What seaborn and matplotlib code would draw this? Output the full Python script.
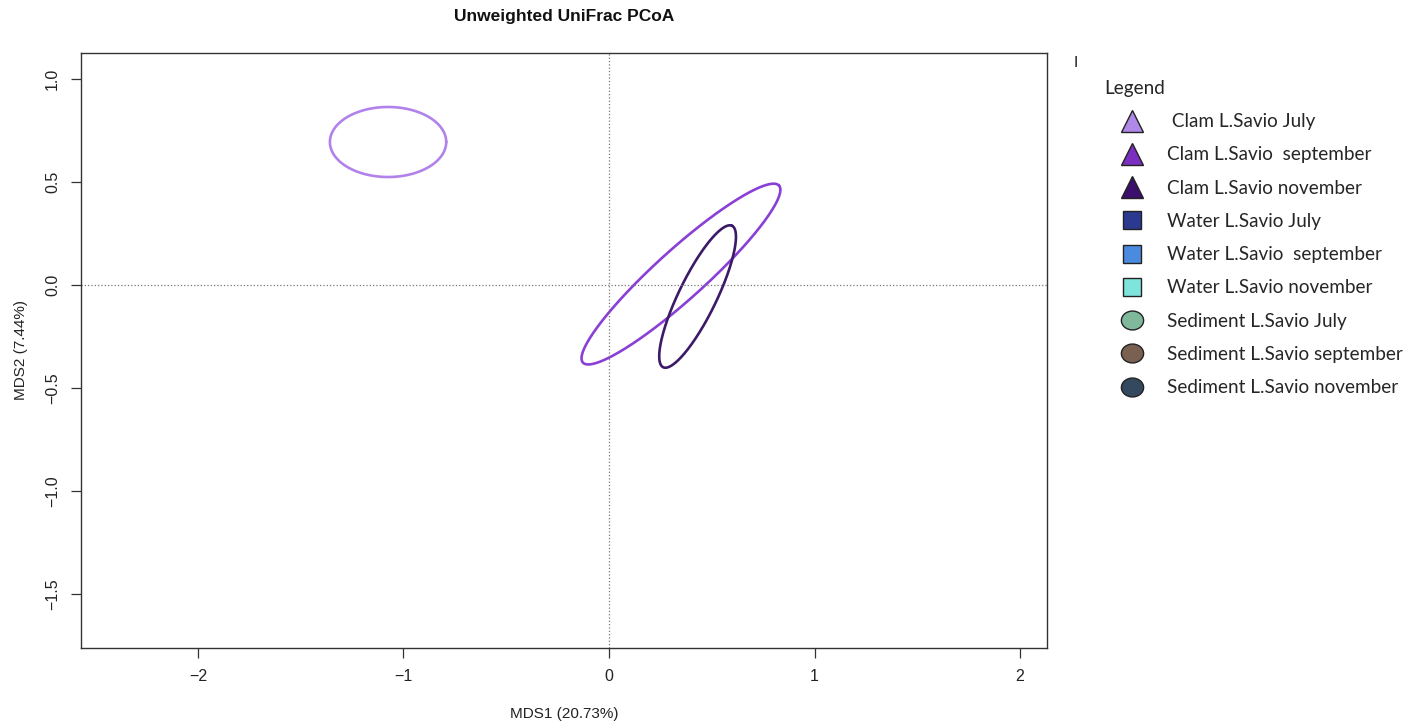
import numpy as np
import pandas as pd
import matplotlib
matplotlib.use('Agg')
import matplotlib.pyplot as plt
from matplotlib.lines import Line2D
from matplotlib.path import Path
from matplotlib.transforms import Affine2D
import seaborn as sns

# ellipse groups (only clam groups have ellipses drawn)
groups = ['Clam L.Savio July', 'Clam L.Savio  september', 'Clam L.Savio november']
centre_x = [-1.075, 0.350, 0.431]
centre_y = [0.694, 0.053, -0.056]
semi_major = [0.283, 0.642, 0.382]
semi_minor = [0.170, 0.120, 0.092]
angle_deg = [0.0, 42.0, 64.0]
ellipse_colors = ['#B183EA', '#8A3FD6', '#3C1A68']

# legend entries
legend_labels = [' Clam L.Savio July', 'Clam L.Savio  september', 'Clam L.Savio november',
                 'Water L.Savio July', 'Water L.Savio  september', 'Water L.Savio november',
                 'Sediment L.Savio July', 'Sediment L.Savio september', 'Sediment L.Savio november']
legend_markers = ['^', '^', '^', 's', 's', 's', 'o', 'o', 'o']
legend_colors = ['#B088E8', '#7B2FC0', '#3B0F6B', '#2B3990', '#4A8BE0', '#7FE5DC',
                 '#7FB89A', '#7A6050', '#34495E']

x_ticks = [-2, -1, 0, 1, 2]
y_ticks = [-1.5, -1.0, -0.5, 0.0, 0.5, 1.0]

sns.set_style('ticks')
plt.rcParams['font.family'] = ['Liberation Sans', 'DejaVu Sans']

fig = plt.figure(figsize=(14.21, 7.27), dpi=100)
ax = fig.add_axes([81 / 1421, 1 - 648 / 727, (1047 - 81) / 1421, (648 - 53) / 727])

# build ellipse outlines from the centre / axes / angle values
t = np.linspace(0, 2 * np.pi, 300)
frames = []
for g, cx, cy, a, b, ang in zip(groups, centre_x, centre_y, semi_major, semi_minor, angle_deg):
    th = np.deg2rad(ang)
    ex = cx + a * np.cos(t) * np.cos(th) - b * np.sin(t) * np.sin(th)
    ey = cy + a * np.cos(t) * np.sin(th) + b * np.sin(t) * np.cos(th)
    frames.append(pd.DataFrame({'x': ex, 'y': ey, 'group': g}))
df = pd.concat(frames, ignore_index=True)

sns.lineplot(data=df, x='x', y='y', hue='group', palette=dict(zip(groups, ellipse_colors)),
             sort=False, estimator=None, units='group', linewidth=1.9, legend=False, ax=ax)

ax.axhline(0, color='#777777', linestyle=':', linewidth=0.9)
ax.axvline(0, color='#777777', linestyle=':', linewidth=0.9)

ax.set_xlim(-2.569, 2.131)
ax.set_ylim(-1.762, 1.126)
ax.set_xticks(x_ticks)
ax.set_xticklabels(['\u22122', '\u22121', '0', '1', '2'])
ax.set_yticks(y_ticks)
ax.set_yticklabels(['\u22121.5', '\u22121.0', '\u22120.5', '0.0', '0.5', '1.0'], rotation=90, va='center')
ax.tick_params(axis='both', direction='out', length=7, width=0.9, colors='#333333',
               labelsize=11.5, labelcolor='#222222', pad=8)
for s in ax.spines.values():
    s.set_visible(True)
    s.set_linewidth(1.0)
    s.set_color('#333333')

ax.set_xlabel('MDS1 (20.73%)', fontsize=11, color='#222222', labelpad=17)
ax.set_ylabel('MDS2 (7.44%)', fontsize=11, color='#222222', labelpad=12)
fig.text(564 / 1421, 1 - 17 / 727, 'Unweighted UniFrac PCoA', ha='center', va='center',
         fontsize=12.5, fontweight='bold', color='#111111')

# stray mark at top of legend area
fig.text(1076 / 1421, 1 - 63 / 727, 'I', ha='center', va='center', fontsize=11,
         family=['Lato', 'DejaVu Sans'], color='#222222')

# slightly flattened circle for the sediment symbols
oval = Path(Affine2D().scale(1.0, 0.85).transform(Path.unit_circle().vertices),
            Path.unit_circle().codes)
marker_map = {'^': '^', 's': 's', 'o': oval}
marker_size = {'^': 15.5, 's': 13.5, 'o': 16}

handles = [Line2D([], [], linestyle='none', marker=marker_map[m], markersize=marker_size[m],
                  markerfacecolor=c, markeredgecolor='#222222', markeredgewidth=1.0)
           for m, c in zip(legend_markers, legend_colors)]
leg = fig.legend(handles, legend_labels, loc='upper left', bbox_to_anchor=(1097 / 1421, 1 - 72 / 727),
                 frameon=False, title='Legend', alignment='left', labelspacing=0.86,
                 handlelength=2.9, handletextpad=0.42, borderaxespad=0,
                 prop={'family': ['Lato', 'DejaVu Sans'], 'size': 13.6},
                 title_fontproperties={'family': ['Lato', 'DejaVu Sans'], 'size': 13.6})
leg._legend_box.sep = 12

fig.savefig('out.png', dpi=100)
